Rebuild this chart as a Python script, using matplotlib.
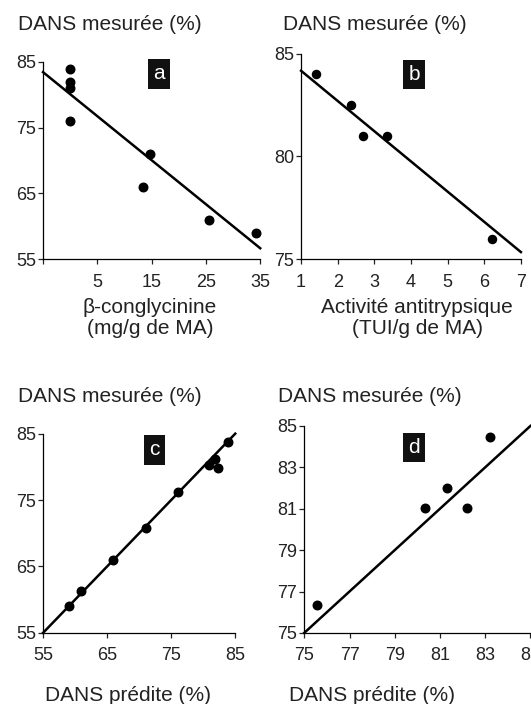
import matplotlib
matplotlib.use('Agg')
import matplotlib.pyplot as plt
import numpy as np

plt.rcParams['font.family'] = ['Liberation Sans', 'DejaVu Sans']

# a : beta-conglycinine vs DANS mesuree
a_x = [0, 0, 0, 0, 14.7, 13.4, 25.5, 34.3]
a_y = [84.0, 82.0, 81.0, 76.0, 71.0, 66.0, 61.0, 59.0]
a_fit = (80.1, -0.67)   # intercept, pente
a_xticks = [-5, 5, 15, 25, 35]
a_xlabels = ['', '5', '15', '25', '35']
a_yticks = [55, 65, 75, 85]

# b : activite antitrypsique
b_x = [1.4, 2.35, 2.7, 3.35, 6.2]
b_y = [84.0, 82.5, 81.0, 81.0, 76.0]
b_fit = (85.63, -1.47)
b_xticks = [1, 2, 3, 4, 5, 6, 7]
b_yticks = [75, 80, 85]

# c : predite vs mesuree
c_pred = [59.0, 60.9, 65.9, 71.0, 76.0, 80.85, 81.9, 82.35, 83.8]
c_meas = [59.1, 61.3, 66.0, 70.8, 76.2, 80.3, 81.2, 79.8, 83.8]
c_ticks = [55, 65, 75, 85]

# d : predite vs mesuree (zoom)
d_pred = [75.55, 80.35, 81.3, 82.2, 83.2]
d_meas = [76.35, 81.05, 82.0, 81.05, 84.45]
d_ticks = [75, 77, 79, 81, 83, 85]

fig = plt.figure(figsize=(5.31, 7.04), dpi=100)


def style(ax, xlim, ylim, xticks, yticks, xlabels=None):
    ax.set_xlim(*xlim)
    ax.set_ylim(*ylim)
    ax.set_xticks(xticks)
    if xlabels is not None:
        ax.set_xticklabels(xlabels)
    ax.set_yticks(yticks)
    for s in ['top', 'right']:
        ax.spines[s].set_visible(False)
    for s in ['left', 'bottom']:
        ax.spines[s].set_linewidth(0.9)
    ax.tick_params(axis='both', length=3.5, width=0.9, labelsize=13, colors='#222222')
    ax.tick_params(axis='x', pad=7)
    ax.tick_params(axis='y', pad=1.5)


def tag(ax, txt, x, y):
    ax.text(x, y, txt, transform=ax.transAxes, color='white', fontsize=15,
            ha='center', va='center',
            bbox=dict(boxstyle='square,pad=0.25', fc='#111111', ec='none'))


def title(x, y):
    fig.text(x, y, 'DANS mesurée (%)', fontsize=15, ha='left', va='center', color='#222222')


# panel a
ax = fig.add_axes([0.081, 0.632, 0.409, 0.280])
ax.scatter(a_x, a_y, s=38, color='black', zorder=3, clip_on=False)
xx = np.array([-5, 35])
ax.plot(xx, a_fit[0] + a_fit[1] * xx, color='black', lw=1.8, clip_on=False)
style(ax, (-5, 35), (55, 85), a_xticks, a_yticks, a_xlabels)
tag(ax, 'a', 0.534, 0.939)
title(0.034, 1 - 25 / 704)
fig.text(150 / 531, 0.548, 'β-conglycinine\n(mg/g de MA)', fontsize=15,
         ha='center', va='center', linespacing=1.15, color='#222222')

# panel b
ax = fig.add_axes([0.567, 0.632, 0.414, 0.292])
ax.scatter(b_x, b_y, s=34, color='black', zorder=3, clip_on=False)
xx = np.array([1, 7])
ax.plot(xx, b_fit[0] + b_fit[1] * xx, color='black', lw=1.8, clip_on=False)
style(ax, (1, 7), (75, 85), b_xticks, b_yticks)
tag(ax, 'b', 0.514, 0.897)
title(283 / 531, 1 - 25 / 704)
fig.text(417 / 531, 0.548, 'Activité antitrypsique\n(TUI/g de MA)', fontsize=15,
         ha='center', va='center', linespacing=1.15, color='#222222')

# panel c
ax = fig.add_axes([0.081, 0.101, 0.362, 0.283])
ax.scatter(c_pred, c_meas, s=38, color='black', zorder=3, clip_on=False)
ax.plot([55, 85], [55, 85], color='black', lw=1.8, clip_on=False)
style(ax, (55, 85), (55, 85), c_ticks, c_ticks)
tag(ax, 'c', 0.581, 0.919)
title(0.034, 1 - 397 / 704)
fig.text(128 / 531, 0.004, 'DANS prédite (%)', fontsize=15,
         ha='center', va='baseline', color='#222222')

# panel d
ax = fig.add_axes([0.573, 0.101, 0.426, 0.294])
ax.scatter(d_pred, d_meas, s=38, color='black', zorder=3, clip_on=False)
ax.plot([75, 85], [75, 85], color='black', lw=1.8, clip_on=False)
style(ax, (75, 85), (75, 85), d_ticks, d_ticks)
tag(ax, 'd', 0.485, 0.896)
title(278 / 531, 1 - 397 / 704)
fig.text(372 / 531, 0.004, 'DANS prédite (%)', fontsize=15,
         ha='center', va='baseline', color='#222222')

fig.savefig('out.png', dpi=100)
